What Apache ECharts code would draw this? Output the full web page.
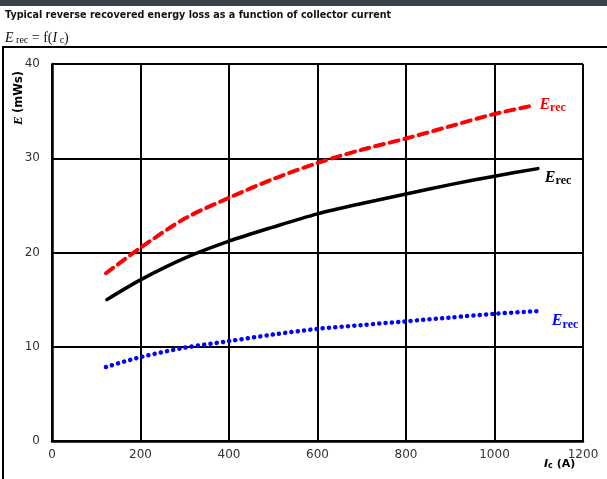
<!DOCTYPE html>
<html><head><meta charset="utf-8">
<script src="https://cdn.jsdelivr.net/npm/echarts@6/dist/echarts.min.js"></script>
<style>html,body{margin:0;padding:0;background:#fff}#c{width:607px;height:479px}</style>
</head><body><div id="c"></div>
<script>
var xTicks = [0, 200, 400, 600, 800, 1000, 1200];
var yTicks = [0, 10, 20, 30, 40];
var redIc   = [122, 200, 300, 400, 500, 600, 700, 800, 900, 1000, 1088];
var redE    = [17.8, 20.5, 23.6, 25.8, 27.8, 29.5, 30.9, 32.1, 33.4, 34.7, 35.6];
var blackIc = [124, 200, 300, 400, 500, 600, 700, 800, 900, 1000, 1098];
var blackE  = [15.0, 17.1, 19.4, 21.2, 22.7, 24.1, 25.2, 26.2, 27.2, 28.1, 28.9];
var blueIc  = [122, 200, 300, 400, 500, 600, 700, 800, 900, 1000, 1107];
var blueE   = [7.85, 8.9, 9.9, 10.6, 11.3, 11.9, 12.3, 12.7, 13.1, 13.5, 13.8];
var seriesName = 'Erec';

function pairs(a, b) { return a.map(function (v, i) { return [v, b[i]]; }); }
function endLbl(color, ox, oy) {
  return {
    show: true, distance: 0, offset: [ox, oy],
    formatter: '{e|E}{s|rec}',
    rich: {
      e: { fontFamily: 'Liberation Serif', fontStyle: 'italic', fontWeight: 'bold', fontSize: 16, color: color },
      s: { fontFamily: 'Liberation Serif', fontWeight: 'bold', fontSize: 12, color: color, padding: [7, 0, 0, 0] }
    }
  };
}
var chart = echarts.init(document.getElementById('c'), null, { renderer: 'canvas' });
chart.setOption({
  animation: false,
  backgroundColor: '#fff',
  grid: { left: 52, right: 24, top: 64, bottom: 38, containLabel: false },
  graphic: [
    { type: 'rect', shape: { x: 0, y: 0, width: 607, height: 6 }, style: { fill: '#3d4249' }, silent: true },
    { type: 'rect', shape: { x: 3, y: 47, width: 620, height: 450 }, style: { fill: 'none', stroke: '#000', lineWidth: 2 }, silent: true },
    { type: 'text', left: 5, top: 10, style: { text: 'Typical reverse recovered energy loss as a function of collector current', font: 'bold 9.6px "DejaVu Sans"', fill: '#111' } },
    { type: 'text', left: 5, top: 31, style: {
      text: '{i|E}{s| rec}{n| = f(}{i|I}{s| c}{n|)}',
      rich: {
        i: { fontFamily: 'Liberation Serif', fontStyle: 'italic', fontSize: 14, fill: '#111' },
        s: { fontFamily: 'Liberation Serif', fontSize: 10, fill: '#111', padding: [5, 0, 0, 0] },
        n: { fontFamily: 'Liberation Serif', fontSize: 14, fill: '#111' }
      } } },
    { type: 'text', x: 19, y: 98, rotation: Math.PI / 2, style: {
      text: '{i|E} {b|(mWs)}', align: 'center', verticalAlign: 'middle',
      rich: {
        i: { fontFamily: 'Liberation Serif', fontStyle: 'italic', fontWeight: 'bold', fontSize: 13, fill: '#000' },
        b: { fontFamily: 'DejaVu Sans', fontWeight: 'bold', fontSize: 11.5, fill: '#000' }
      } } },
    { type: 'text', left: 544, top: 459, style: {
      text: '{i|I}{s|c}{b| (A)}',
      rich: {
        i: { fontFamily: 'DejaVu Sans', fontStyle: 'italic', fontWeight: 'bold', fontSize: 11, fill: '#000' },
        s: { fontFamily: 'DejaVu Sans', fontWeight: 'bold', fontSize: 8, fill: '#000', padding: [3, 0, 0, 0] },
        b: { fontFamily: 'DejaVu Sans', fontWeight: 'bold', fontSize: 11, fill: '#000' }
      } } }
  ],
  xAxis: {
    type: 'value', min: xTicks[0], max: xTicks[xTicks.length - 1], interval: 200,
    axisLine: { show: true, lineStyle: { color: '#000', width: 2.5 } },
    axisTick: { show: false },
    axisLabel: { color: '#333', fontSize: 12, fontFamily: 'DejaVu Sans', margin: 8, formatter: function (v) { return String(v); } },
    splitLine: { show: true, lineStyle: { color: '#000', width: 2 } }
  },
  yAxis: {
    type: 'value', min: yTicks[0], max: yTicks[yTicks.length - 1], interval: 10,
    axisLine: { show: true, lineStyle: { color: '#000', width: 2.5 } },
    axisTick: { show: false },
    axisLabel: { color: '#333', fontSize: 12, fontFamily: 'DejaVu Sans', margin: 12, formatter: function (v) { return String(v); } },
    splitLine: { show: true, lineStyle: { color: '#000', width: 2 } }
  },
  series: [
    { name: seriesName, type: 'line', smooth: 0.3, symbol: 'none', data: pairs(redIc, redE),
      lineStyle: { color: '#ff0000', width: 4, type: [9, 6], cap: 'round' },
      endLabel: endLbl('#ff0000', 6, -1) },
    { name: seriesName, type: 'line', smooth: 0.3, symbol: 'none', data: pairs(blackIc, blackE),
      lineStyle: { color: '#000', width: 3.5, type: 'solid', cap: 'round' },
      endLabel: endLbl('#000', 7, 9) },
    { name: seriesName, type: 'line', smooth: 0.3, symbol: 'none', data: pairs(blueIc, blueE),
      lineStyle: { color: '#0000ff', width: 4.5, type: [0.1, 6.2], cap: 'round' },
      endLabel: endLbl('#0000ff', 10, 10) }
  ]
});
</script></body></html>
